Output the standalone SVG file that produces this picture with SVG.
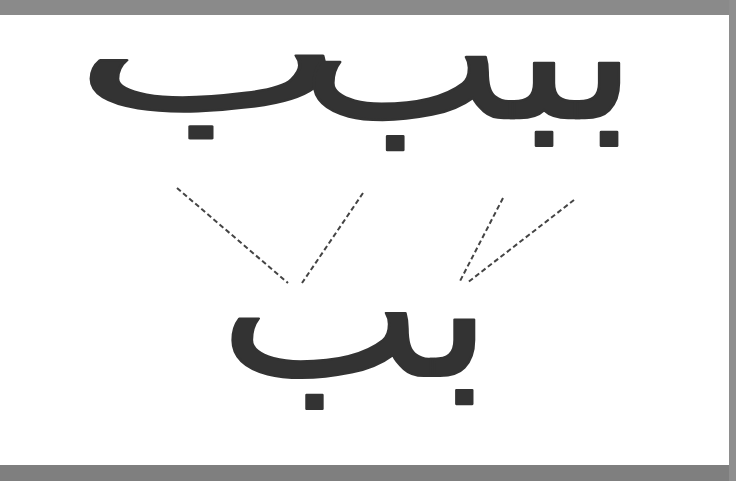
<svg xmlns="http://www.w3.org/2000/svg" width="736" height="481" viewBox="0 0 736 481">
<style>
.ar{font-family:"DejaVu Sans","Noto Sans",sans-serif;fill:#333;stroke:#333;stroke-width:2;stroke-linejoin:round;text-anchor:middle}
.dash{stroke:#444;stroke-width:2;stroke-dasharray:5 3;fill:none}
</style>
<rect x="0" y="0" width="736" height="481" fill="#fff"/>
<rect x="0" y="0" width="736" height="15" fill="#8a8a8a"/>
<rect x="0" y="465" width="736" height="16" fill="#7f7f7f"/>
<rect x="729" y="0" width="7" height="481" fill="#8e8e8e"/>
<g id="top-left"><text class="ar" transform="translate(210,110) scale(1.94,1.11)" font-size="150">ب</text></g>
<g id="top-right"><text class="ar" transform="translate(469,118) scale(1.44,1.25)" font-size="150">ببب</text></g>
<g id="bottom"><text class="ar" transform="translate(356,376) scale(1.21,1.07)" font-size="180">بب</text></g>
<g id="connectors">
<line class="dash" x1="177" y1="188" x2="288" y2="283"/>
<line class="dash" x1="363" y1="193" x2="302" y2="283"/>
<line class="dash" x1="503" y1="198" x2="459" y2="283"/>
<line class="dash" x1="574" y1="200" x2="467" y2="283"/>
</g>
</svg>
